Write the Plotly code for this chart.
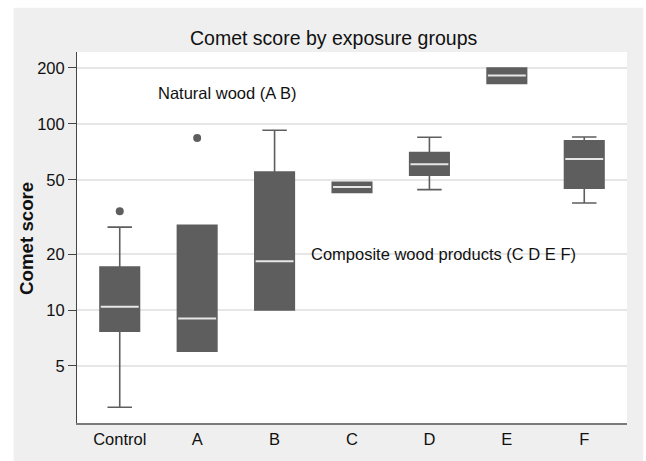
import plotly.graph_objects as go

categories = ["Control", "A", "B", "C", "D", "E", "F"]
q1 = [7.7, 6.0, 10.0, 42.9, 53.0, 165, 45.1]
median = [10.4, 9.0, 18.3, 45.8, 60.7, 182, 64.9]
q3 = [17.0, 28.5, 55.2, 48.6, 70.2, 200, 81.1]
lower_whisker = [3.0, 6.0, 10.0, 42.9, 44.4, 165, 37.6]
upper_whisker = [27.9, 28.5, 92.5, 48.6, 84.8, 200, 85.1]
outlier_cats = ["Control", "A"]
outlier_vals = [33.9, 84.1]

DARK = "#5e5e5e"
FONT = "Liberation Sans, Arial, sans-serif"

fig = go.Figure()
fig.add_trace(go.Box(
    x=categories, q1=q1, median=median, q3=q3,
    lowerfence=lower_whisker, upperfence=upper_whisker,
    fillcolor=DARK, line=dict(color=DARK, width=1.6),
    width=0.51, whiskerwidth=0.62, boxpoints=False, showlegend=False,
))
# median lines drawn as degenerate boxes
fig.add_trace(go.Box(
    x=categories, q1=median, median=median, q3=median,
    lowerfence=median, upperfence=median,
    fillcolor="rgba(0,0,0,0)", line=dict(color="#e6e6e6", width=2),
    width=0.49, whiskerwidth=0, boxpoints=False, showlegend=False,
))
fig.add_trace(go.Scatter(
    x=outlier_cats, y=outlier_vals, mode="markers",
    marker=dict(color=DARK, size=8), showlegend=False,
))

shapes = [
    dict(type="rect", xref="paper", yref="paper", x0=-0.1152, x1=1.0297, y0=-0.11, y1=1.1192,
         fillcolor="#efefef", line=dict(width=0), layer="below"),
    dict(type="rect", xref="paper", yref="paper", x0=0, x1=1, y0=0, y1=1,
         fillcolor="white", line=dict(width=0), layer="below"),
]

annotations = [
    dict(text="Comet score by exposure groups", xref="paper", yref="paper",
         x=0.466, y=1.039, xanchor="center", yanchor="middle", showarrow=False,
         font=dict(size=19.5, color="#111", family=FONT)),
    dict(text="<b>Comet score</b>", xref="paper", yref="paper",
         x=-0.0921, y=0.497, xanchor="center", yanchor="middle", showarrow=False,
         textangle=-90, font=dict(size=18.7, color="#111", family=FONT)),
    dict(text="Natural wood (A B)", xref="x", yref="y", x=1.38, y=2.169,
         xanchor="center", yanchor="middle", showarrow=False,
         font=dict(size=16.5, color="#111", family=FONT)),
    dict(text="Composite wood products (C D E F)", xref="x", yref="y", x=4.185, y=1.301,
         xanchor="center", yanchor="middle", showarrow=False,
         font=dict(size=16.5, color="#111", family=FONT)),
]

fig.update_layout(
    width=646, height=461,
    margin=dict(l=77.3, r=19.3, t=51.7, b=38.3),
    paper_bgcolor="white", plot_bgcolor="rgba(0,0,0,0)",
    boxmode="overlay",
    shapes=shapes, annotations=annotations,
    font=dict(family=FONT, size=16.5, color="#111"),
    xaxis=dict(
        type="category", range=[-0.552, 6.552],
        showgrid=False, zeroline=False,
        showline=True, linecolor="#7a7a7a", linewidth=2,
        ticks="",
        tickfont=dict(size=16.5, color="#111"),
    ),
    yaxis=dict(
        type="log", range=[0.3925, 2.387],
        tickvals=[5, 10, 20, 50, 100, 200], ticktext=["5", "10", "20", "50", "100", "200"],
        showgrid=True, gridcolor="#e6e6e6", gridwidth=1.5,
        zeroline=False,
        showline=True, linecolor="#444", linewidth=1,
        ticks="outside", ticklen=8, tickcolor="#444", tickwidth=1,
        tickfont=dict(size=16.5, color="#111"),
    ),
)

fig.write_html("out.html", config={"displayModeBar": False},
               post_script="document.body.style.margin='0';document.body.style.overflow='hidden';")
